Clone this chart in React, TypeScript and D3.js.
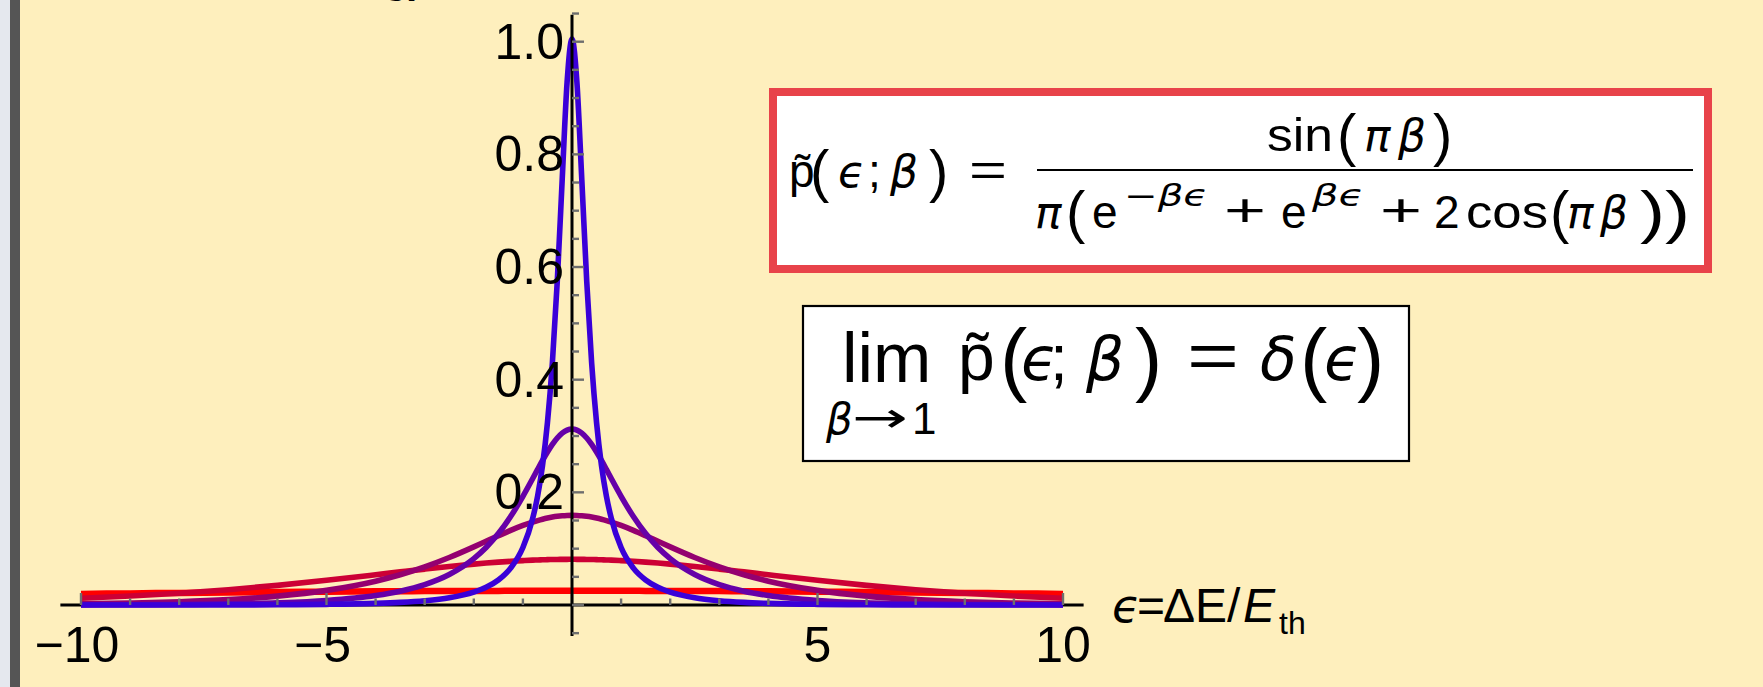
import React from "react";
import * as d3 from "d3";

// ---------- data ----------
const epsilon = [-10, -9, -8, -7, -6, -5, -4, -3.5, -3, -2.5, -2, -1.75, -1.5, -1.25, -1, -0.8, -0.7, -0.6, -0.5, -0.4, -0.3, -0.2, -0.1, 0, 0.1, 0.2, 0.3, 0.4, 0.5, 0.6, 0.7, 0.8, 1, 1.25, 1.5, 1.75, 2, 2.5, 3, 3.5, 4, 5, 6, 7, 8, 9, 10];

const betaLabels = ["0.1", "0.3", "0.5", "0.7", "0.9"];

const pBeta01 = [0.019719, 0.020629, 0.021491, 0.022293, 0.02302, 0.02366, 0.024202, 0.024433, 0.024636, 0.024808, 0.024952, 0.02501, 0.025063, 0.025107, 0.025143, 0.025167, 0.025176, 0.025185, 0.025192, 0.025198, 0.025202, 0.025205, 0.025207, 0.025208, 0.025207, 0.025205, 0.025202, 0.025198, 0.025192, 0.025185, 0.025176, 0.025167, 0.025143, 0.025107, 0.025063, 0.02501, 0.024952, 0.024808, 0.024636, 0.024433, 0.024202, 0.02366, 0.02302, 0.022293, 0.021491, 0.020629, 0.019719];

const pBeta03 = [0.012084, 0.015973, 0.020954, 0.02721, 0.034845, 0.043793, 0.053685, 0.058752, 0.063714, 0.068399, 0.072612, 0.074479, 0.076155, 0.077616, 0.078842, 0.079642, 0.07998, 0.080273, 0.080522, 0.080727, 0.080887, 0.081002, 0.081071, 0.081094, 0.081071, 0.081002, 0.080887, 0.080727, 0.080522, 0.080273, 0.07998, 0.079642, 0.078842, 0.077616, 0.076155, 0.074479, 0.072612, 0.068399, 0.063714, 0.058752, 0.053685, 0.043793, 0.034845, 0.02721, 0.020954, 0.015973, 0.012084];

const pBeta05 = [0.0021447, 0.0035357, 0.0058281, 0.0096033, 0.015809, 0.025954, 0.042304, 0.053693, 0.067656, 0.08428, 0.103142, 0.113047, 0.12293, 0.132436, 0.141142, 0.14722, 0.149882, 0.15225, 0.154306, 0.156024, 0.157381, 0.158363, 0.158956, 0.159155, 0.158956, 0.158363, 0.157381, 0.156024, 0.154306, 0.15225, 0.149882, 0.14722, 0.141142, 0.132436, 0.12293, 0.113047, 0.103142, 0.08428, 0.067656, 0.053693, 0.042304, 0.025954, 0.015809, 0.0096033, 0.0058281, 0.0035357, 0.0021447];

const pBeta07 = [0.00023508, 0.0004739, 0.00095642, 0.0019344, 0.00393, 0.0080549, 0.016799, 0.024528, 0.036204, 0.054183, 0.082373, 0.1021, 0.12673, 0.15701, 0.19293, 0.22462, 0.24079, 0.25662, 0.27159, 0.28508, 0.29645, 0.3051, 0.31051, 0.31236, 0.31051, 0.3051, 0.29645, 0.28508, 0.27159, 0.25662, 0.24079, 0.22462, 0.19293, 0.15701, 0.12673, 0.1021, 0.082373, 0.054183, 0.036204, 0.024528, 0.016799, 0.0080549, 0.00393, 0.0019344, 0.00095642, 0.0004739, 0.00023508];

const pBeta09 = [0.00001214, 0.00002988, 0.00007354, 0.00018126, 0.00044812, 0.0011162, 0.0028328, 0.00458, 0.0075405, 0.01279, 0.022807, 0.031368, 0.044417, 0.065456, 0.10203, 0.15392, 0.1936, 0.24796, 0.32375, 0.42973, 0.5744, 0.75467, 0.92802, 1.00484, 0.92802, 0.75467, 0.5744, 0.42973, 0.32375, 0.24796, 0.1936, 0.15392, 0.10203, 0.065456, 0.044417, 0.031368, 0.022807, 0.01279, 0.0075405, 0.00458, 0.0028328, 0.0011162, 0.00044812, 0.00018126, 0.00007354, 0.00002988, 0.00001214];

const xTickLabels = ["\u221210", "\u22125", "5", "10"];
const xTickLabelValues = [-10, -5, 5, 10];
const yTickLabels = ["0.2", "0.4", "0.6", "0.8", "1.0"];
const yTickLabelValues = [0.2, 0.4, 0.6, 0.8, 1.0];

// ---------- styles ----------
const W = 1763;
const H = 687;
const BG = "#FEEFBD";
const FONT = "'Liberation Sans', Arial, 'DejaVu Sans', sans-serif";
const MATH = "'Liberation Sans', 'DejaVu Sans', sans-serif";
const GREEK = "'DejaVu Sans', sans-serif";
const seriesColors = ["#FF0000", "#CC0035", "#940070", "#6600A8", "#3A00D8"];
const seriesWidths = [6.5, 5.6, 5.6, 5.6, 5.6];
const TICK = "#6e6e6e";

type Piece = { t: string; x: number; y: number; s: number; it?: boolean; g?: boolean; len?: number };

function Pieces({ items }: { items: Piece[] }) {
  return (
    <g fill="#000">
      {items.map((p, i) => (
        <text
          key={i}
          x={p.x}
          y={p.y}
          fontSize={p.s}
          fontFamily={p.g ? GREEK : MATH}
          fontStyle={p.it ? "italic" : "normal"}
          textLength={p.len}
          lengthAdjust={p.len ? "spacingAndGlyphs" : undefined}
        >
          {p.t}
        </text>
      ))}
    </g>
  );
}

export default function App() {
  const x = d3.scaleLinear().domain([-10, 10]).range([81, 1063]);
  const y = d3.scaleLinear().domain([0, 1]).range([605, 41.7]);

  const series = [pBeta01, pBeta03, pBeta05, pBeta07, pBeta09];
  const line = d3
    .line<[number, number]>()
    .x((d) => x(d[0]))
    .y((d) => y(d[1]))
    .curve(d3.curveMonotoneX);

  const xMinor = d3.range(-10, 11, 1);
  const xMajor = [-10, -5, 0, 5, 10];
  const yMinor = d3.range(-1, 22).map((k) => +(k * 0.05).toFixed(2));
  const yMajor = [0, 0.2, 0.4, 0.6, 0.8, 1.0];
  const isMajorY = (v: number) => yMajor.some((m) => Math.abs(m - v) < 1e-6);

  const x0 = x(0);
  const y0 = y(0);

  // formula 1 pieces
  const f1: Piece[] = [
    { t: "p\u0303", x: 789, y: 187, s: 46 },
    { t: "(", x: 810, y: 191, s: 58 },
    { t: "\u03f5", x: 838, y: 187, s: 44, it: true, g: true },
    { t: ";", x: 868, y: 187, s: 46 },
    { t: "\u03b2", x: 890, y: 187, s: 44, it: true, g: true },
    { t: ")", x: 929, y: 191, s: 58 },
    { t: "=", x: 969, y: 186, s: 46, len: 38 },
    // numerator
    { t: "sin", x: 1267, y: 151, s: 46, len: 66 },
    { t: "(", x: 1337, y: 155, s: 58 },
    { t: "\u03c0", x: 1364, y: 151, s: 44, it: true, g: true },
    { t: "\u03b2", x: 1398, y: 151, s: 44, it: true, g: true },
    { t: ")", x: 1433, y: 155, s: 58 },
    // denominator
    { t: "\u03c0", x: 1035, y: 228, s: 44, it: true, g: true },
    { t: "(", x: 1066, y: 232, s: 58 },
    { t: "e", x: 1092, y: 228, s: 46 },
    { t: "\u2212\u03b2\u03f5", x: 1124, y: 206, s: 30, it: true, g: true, len: 84 },
    { t: "+", x: 1224, y: 226, s: 46, len: 42 },
    { t: "e", x: 1281, y: 228, s: 46 },
    { t: "\u03b2\u03f5", x: 1312, y: 206, s: 30, it: true, g: true, len: 52 },
    { t: "+", x: 1380, y: 226, s: 46, len: 42 },
    { t: "2", x: 1434, y: 228, s: 46 },
    { t: "cos", x: 1466, y: 228, s: 46, len: 82 },
    { t: "(", x: 1550, y: 232, s: 58 },
    { t: "\u03c0", x: 1567, y: 228, s: 44, it: true, g: true },
    { t: "\u03b2", x: 1600, y: 228, s: 44, it: true, g: true },
    { t: "))", x: 1640, y: 232, s: 58, len: 50 },
  ];

  const f2: Piece[] = [
    { t: "lim", x: 842, y: 382, s: 70 },
    { t: "\u03b2", x: 826, y: 434, s: 42, it: true, g: true },
    { t: "\u2192", x: 852, y: 432, s: 42, g: true, len: 56 },
    { t: "1", x: 912, y: 434, s: 44 },
    { t: "p\u0303", x: 958, y: 380, s: 66 },
    { t: "(", x: 1000, y: 386, s: 82 },
    { t: "\u03f5", x: 1021, y: 380, s: 60, it: true, g: true },
    { t: ";", x: 1050, y: 380, s: 64 },
    { t: "\u03b2", x: 1086, y: 380, s: 60, it: true, g: true },
    { t: ")", x: 1135, y: 386, s: 82 },
    { t: "=", x: 1187, y: 378, s: 64, len: 52 },
    { t: "\u03b4", x: 1260, y: 380, s: 60, it: true, g: true },
    { t: "(", x: 1300, y: 386, s: 82 },
    { t: "\u03f5", x: 1324, y: 380, s: 60, it: true, g: true },
    { t: ")", x: 1357, y: 386, s: 82 },
  ];

  return (
    <svg
      width={W}
      height={H}
      viewBox={`0 0 ${W} ${H}`}
      style={{ position: "absolute", left: 0, top: 0, display: "block" }}
    >
      <rect x={0} y={0} width={W} height={H} fill={BG} />
      <rect x={0} y={0} width={10} height={H} fill="#E5E8EE" />
      <rect x={10} y={0} width={10} height={H} fill="#555555" />

      {/* cut-off title fragment at the top */}
      <text x={384} y={-7} fontFamily={FONT} fontWeight="bold" fontSize={40} fill="#000">
        g)
      </text>

      {/* x axis line */}
      <line x1={x(-10.42)} x2={x(10.42)} y1={y0} y2={y0} stroke="#000" strokeWidth={3} />

      {/* curves */}
      {series.map((vals, i) => (
        <path
          key={betaLabels[i]}
          d={line(epsilon.map((e, k) => [e, vals[k]] as [number, number])) || ""}
          fill="none"
          stroke={seriesColors[i]}
          strokeWidth={seriesWidths[i]}
          strokeLinecap="butt"
          strokeLinejoin="round"
        />
      ))}

      {/* x ticks */}
      {xMinor.map((v) => {
        const major = xMajor.includes(v);
        return (
          <line
            key={"xt" + v}
            x1={x(v)}
            x2={x(v)}
            y1={y0}
            y2={y0 - (major ? 12 : 6.5)}
            stroke={TICK}
            strokeWidth={2.4}
          />
        );
      })}

      {/* y axis */}
      <line x1={x0} x2={x0} y1={y(-0.055)} y2={y(1.048)} stroke="#000" strokeWidth={3} />
      {yMinor.map((v) => {
        const major = isMajorY(v);
        return (
          <line
            key={"yt" + v}
            x1={x0}
            x2={x0 + (major ? 12 : 7)}
            y1={y(v)}
            y2={y(v)}
            stroke={TICK}
            strokeWidth={2.4}
          />
        );
      })}

      {/* tick labels */}
      <g fontFamily={FONT} fontSize={50} fill="#000">
        {yTickLabelValues.map((v, i) => (
          <text key={"yl" + i} x={x0 - 8} y={y(v) + 17} textAnchor="end">
            {yTickLabels[i]}
          </text>
        ))}
        {xTickLabelValues.map((v, i) => (
          <text key={"xl" + i} x={x(v) + (v < 0 ? -4 : 0)} y={662} textAnchor="middle">
            {xTickLabels[i]}
          </text>
        ))}
      </g>

      {/* axis label */}
      <g fontFamily={FONT} fill="#000">
        <text x={1112} y={622} fontSize={46} fontFamily={GREEK} fontStyle="italic">{"\u03f5"}</text>
        <text x={1137} y={622} fontSize={48}>=</text>
        <text x={1163} y={622} fontSize={48}>{"\u0394E/"}</text>
        <text x={1243} y={622} fontSize={48} fontStyle="italic">E</text>
        <text x={1279} y={634} fontSize={32}>th</text>
      </g>

      {/* formula box 1 */}
      <rect x={773} y={92} width={935} height={177} fill="#FFFFFF" stroke="#E8434A" strokeWidth={8} />
      <line x1={1037} x2={1693} y1={170} y2={170} stroke="#000" strokeWidth={2} />
      <Pieces items={f1} />

      {/* formula box 2 */}
      <rect x={803} y={306} width={606} height={155} fill="#FFFFFF" stroke="#000" strokeWidth={2.2} />
      <Pieces items={f2} />
    </svg>
  );
}
